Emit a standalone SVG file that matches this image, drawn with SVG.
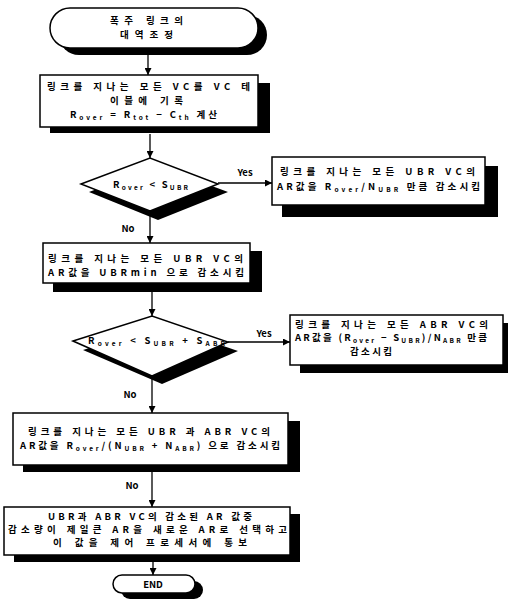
<svg xmlns="http://www.w3.org/2000/svg" width="513" height="614" viewBox="0 0 513 614">
<style>
.t{font-family:"Noto Sans CJK KR","Liberation Sans",sans-serif;font-size:9.5px;font-weight:bold;fill:#000}
.s{font-size:6.5px}
.box{fill:#fff;stroke:#000;stroke-width:1.5}
.sh{fill:#000}
.ln{stroke:#000;stroke-width:1.3;fill:none}
</style>
<defs>
<marker id="ah" viewBox="0 0 10 10" refX="10" refY="5" markerWidth="7" markerHeight="7" markerUnits="userSpaceOnUse" orient="auto">
<path d="M0,0 L10,5 L0,10 z" fill="#000"/>
</marker>
</defs>
<g id="connectors">
<line class="ln" x1="148" y1="55" x2="148" y2="75" marker-end="url(#ah)"/>
<line class="ln" x1="150" y1="134" x2="150" y2="158" marker-end="url(#ah)"/>
<line class="ln" x1="218" y1="183" x2="272" y2="183" marker-end="url(#ah)"/>
<line class="ln" x1="150" y1="215" x2="150" y2="243" marker-end="url(#ah)"/>
<line class="ln" x1="152" y1="290" x2="152" y2="316" marker-end="url(#ah)"/>
<line class="ln" x1="228" y1="342" x2="290" y2="342" marker-end="url(#ah)"/>
<line class="ln" x1="152" y1="378" x2="152" y2="413" marker-end="url(#ah)"/>
<line class="ln" x1="152" y1="470" x2="152" y2="507" marker-end="url(#ah)"/>
<line class="ln" x1="153" y1="562" x2="153" y2="575" marker-end="url(#ah)"/>
<text class="t" x="245" y="176" text-anchor="middle">Yes</text>
<text class="t" x="128" y="232" text-anchor="middle">No</text>
<text class="t" x="264" y="337" text-anchor="middle">Yes</text>
<text class="t" x="130" y="398" text-anchor="middle">No</text>
<text class="t" x="132" y="489" text-anchor="middle">No</text>
</g>
<g id="start">
<rect class="sh" x="59" y="15" width="208" height="40" rx="20"/>
<rect class="box" x="50" y="8" width="208" height="40" rx="20"/>
<text class="t" x="110" y="24" textLength="73" lengthAdjust="spacing">폭주 링크의</text>
<text class="t" x="120" y="38" textLength="53" lengthAdjust="spacing">대역조정</text>
</g>
<g id="record">
<rect class="sh" x="50" y="83" width="220" height="50"/>
<rect class="box" x="40" y="75" width="218" height="52"/>
<text class="t" x="47" y="90" textLength="203" lengthAdjust="spacing">링크를 지나는 모든 VC를 VC 테</text>
<text class="t" x="110" y="104" textLength="73" lengthAdjust="spacing">이블에 기록</text>
<text class="t" x="70" y="118" textLength="147" lengthAdjust="spacing">R<tspan class="s" dy="2">over</tspan><tspan dy="-2"> = R</tspan><tspan class="s" dy="2">tot</tspan><tspan dy="-2"> − C</tspan><tspan class="s" dy="2">th</tspan><tspan dy="-2"> 계산</tspan></text>
</g>
<g id="dec1">
<polygon class="sh" points="89,192 158,166 228,192 158,220"/>
<polygon class="box" points="81,184 150,158 218,184 150,211"/>
<text class="t" x="113" y="188" textLength="75" lengthAdjust="spacing">R<tspan class="s" dy="2">over</tspan><tspan dy="-2"> &lt; S</tspan><tspan class="s" dy="2">UBR</tspan></text>
</g>
<g id="ubr1">
<rect class="sh" x="282" y="166" width="216" height="51"/>
<rect class="box" x="272" y="157" width="213" height="48"/>
<text class="t" x="280" y="175" textLength="195" lengthAdjust="spacing">링크를 지나는 모든 UBR VC의</text>
<text class="t" x="277" y="190" textLength="203" lengthAdjust="spacing">AR값을 R<tspan class="s" dy="2">over</tspan><tspan dy="-2">/N</tspan><tspan class="s" dy="2">UBR</tspan><tspan dy="-2"> 만큼 감소시킴</tspan></text>
</g>
<g id="ubr2">
<rect class="sh" x="53" y="251" width="209" height="41"/>
<rect class="box" x="43" y="243" width="207" height="40"/>
<text class="t" x="48" y="262" textLength="195" lengthAdjust="spacing">링크를 지나는 모든 UBR VC의</text>
<text class="t" x="48" y="276" textLength="196" lengthAdjust="spacing">AR값을 UBRmin 으로 감소시킴</text>
</g>
<g id="dec2">
<polygon class="sh" points="83,350 162,325 238,351 162,384"/>
<polygon class="box" points="73,341 152,316 228,342 152,376"/>
<text class="t" x="88" y="344" textLength="137" lengthAdjust="spacing">R<tspan class="s" dy="2">over</tspan><tspan dy="-2"> &lt; S</tspan><tspan class="s" dy="2">UBR</tspan><tspan dy="-2"> + S</tspan><tspan class="s" dy="2">ABR</tspan></text>
</g>
<g id="abr">
<rect class="sh" x="300" y="323" width="208" height="50"/>
<rect class="box" x="290" y="315" width="213" height="50"/>
<text class="t" x="295" y="328" textLength="193" lengthAdjust="spacing">링크를 지나는 모든 ABR VC의</text>
<text class="t" x="295" y="341" textLength="192" lengthAdjust="spacing">AR값을 (R<tspan class="s" dy="2">over</tspan><tspan dy="-2"> − S</tspan><tspan class="s" dy="2">UBR</tspan><tspan dy="-2">)/N</tspan><tspan class="s" dy="2">ABR</tspan><tspan dy="-2"> 만큼</tspan></text>
<text class="t" x="350" y="355" textLength="42" lengthAdjust="spacing">감소시킴</text>
</g>
<g id="both">
<rect class="sh" x="23" y="421" width="277" height="51"/>
<rect class="box" x="13" y="413" width="275" height="52"/>
<text class="t" x="28" y="435" textLength="242" lengthAdjust="spacing">링크를 지나는 모든 UBR 과 ABR VC의</text>
<text class="t" x="20" y="449" textLength="260" lengthAdjust="spacing">AR값을 R<tspan class="s" dy="2">over</tspan><tspan dy="-2">/(N</tspan><tspan class="s" dy="2">UBR</tspan><tspan dy="-2"> + N</tspan><tspan class="s" dy="2">ABR</tspan><tspan dy="-2">) 으로 감소시킴</tspan></text>
</g>
<g id="select">
<rect class="sh" x="14" y="514" width="286" height="48"/>
<rect class="box" x="4" y="507" width="286" height="48"/>
<text class="t" x="48" y="520" textLength="204" lengthAdjust="spacing">UBR과 ABR VC의 감소된 AR 값중</text>
<text class="t" x="8" y="533" textLength="279" lengthAdjust="spacing">감소량이 제일큰 AR을 새로운 AR로 선택하고</text>
<text class="t" x="53" y="546" textLength="194" lengthAdjust="spacing">이 값을 제어 프로세서에 통보</text>
</g>
<g id="end">
<rect class="sh" x="121" y="581" width="82" height="18" rx="9"/>
<rect class="box" x="113" y="575" width="82" height="18" rx="9"/>
<text class="t" x="153" y="588" text-anchor="middle">END</text>
</g>
</svg>
